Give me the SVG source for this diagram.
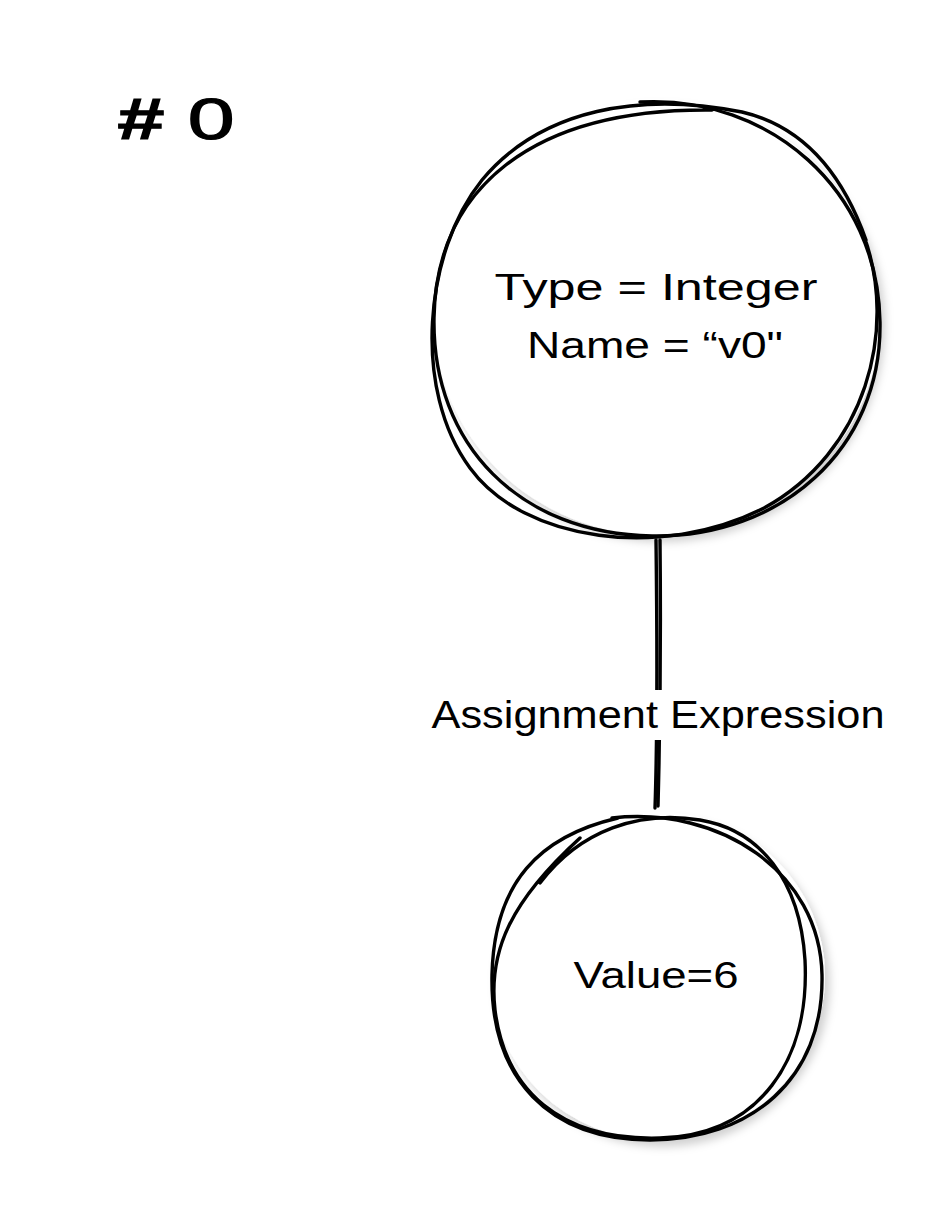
<svg xmlns="http://www.w3.org/2000/svg" width="944" height="1208" viewBox="0 0 944 1208">
  <defs>
    <filter id="shadow" x="-20%" y="-20%" width="140%" height="140%">
      <feDropShadow dx="5" dy="7" stdDeviation="4" flood-color="#000" flood-opacity="0.18"/>
    </filter>
  </defs>
  <style>
    .sk { fill: none; stroke: #000; stroke-width: 3.4; stroke-linecap: round; stroke-linejoin: round; }
    .bg { fill: #fff; stroke: none; }
    .t { font-family: "Liberation Sans", "DejaVu Sans", sans-serif; fill: #000; text-anchor: middle; }
  </style>
  <rect x="0" y="0" width="944" height="1208" fill="#fff"/>

  <g id="title">
    <text class="t" x="176" y="139" font-size="58" textLength="117" lengthAdjust="spacingAndGlyphs" stroke="#000" stroke-width="1.2"><tspan font-weight="bold">#</tspan> 0</text>
  </g>

  <g id="connectors">
    <path class="sk" d="M656 540 C657 620 658 720 655 808"/>
    <path class="sk" d="M660 540 C661 640 660 730 658 806"/>
    <rect class="bg" x="424" y="690" width="468" height="50"/>
    <text class="t" x="658" y="728" font-size="38" textLength="453" lengthAdjust="spacingAndGlyphs">Assignment Expression</text>
  </g>

  <g id="node-variable">
    <ellipse class="bg" cx="657" cy="317" rx="223" ry="218" filter="url(#shadow)"/>
    <path class="sk" d="M640 102 C770 95 878 190 880 322 C882 450 780 538 652 536 C520 534 432 445 434 318 C436 190 530 108 712 110"/>
    <path class="sk" d="M864 236 C898 330 866 452 764 508 C662 560 524 542 470 468 C412 390 424 252 482 180 C542 108 642 92 742 112 C802 126 842 172 866 240"/>
    <text class="t" x="656" y="300" font-size="36" textLength="323" lengthAdjust="spacingAndGlyphs">Type = Integer</text>
    <text class="t" x="655" y="358" font-size="36" textLength="256" lengthAdjust="spacingAndGlyphs">Name = “v0"</text>
  </g>

  <g id="node-value">
    <ellipse class="bg" cx="658" cy="976" rx="167" ry="164" filter="url(#shadow)"/>
    <path class="sk" d="M612 818 C720 806 820 872 822 975 C824 1080 750 1140 650 1140 C550 1140 490 1080 492 975 C494 882 540 836 618 818"/>
    <path class="sk" d="M540 883 C580 830 640 810 700 820 C760 830 800 880 805 960 C810 1060 760 1135 660 1138 C560 1141 505 1090 495 1010 C488 950 512 900 580 838"/>
    <text class="t" x="656" y="988" font-size="36" textLength="165" lengthAdjust="spacingAndGlyphs">Value=6</text>
  </g>
</svg>
